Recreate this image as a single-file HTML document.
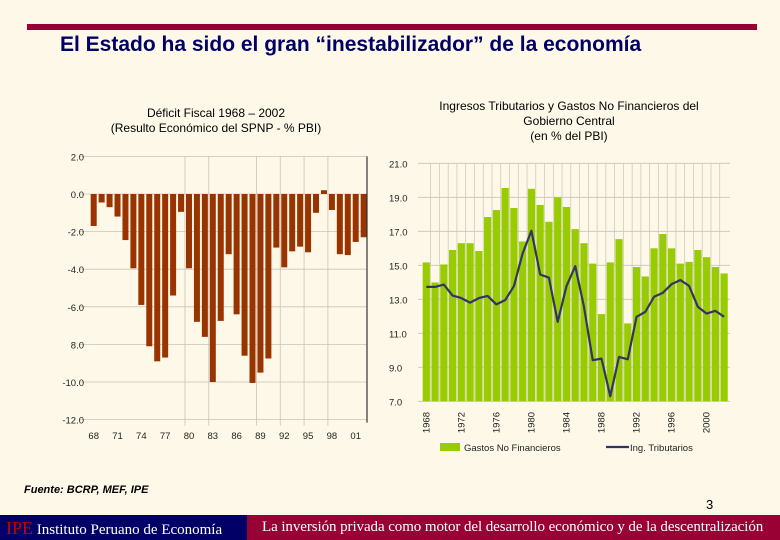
<!DOCTYPE html>
<html><head><meta charset="utf-8"><style>
body{margin:0;background:#fdf8e8;font-family:"Liberation Sans",sans-serif}
#wrap{position:relative;width:780px;height:540px;overflow:hidden;background:#fdf8e8}
.t{position:absolute;white-space:nowrap}
</style></head><body>
<div id="wrap">
<div style="position:absolute;left:27px;top:24px;width:730px;height:6px;background:#990033"></div>
<div class="t" style="left:60px;top:33px;font-size:21px;font-weight:bold;color:#000066">El Estado ha sido el gran “inestabilizador” de la economía</div>
<div class="t" style="left:216px;top:106px;transform:translateX(-50%);font-size:12px;text-align:center;line-height:15px">Déficit Fiscal 1968 – 2002<br>(Resulto Económico del SPNP - % PBI)</div>
<div class="t" style="left:569px;top:99px;transform:translateX(-50%);font-size:12px;text-align:center;line-height:15px">Ingresos Tributarios y Gastos No Financieros del<br>Gobierno Central<br>(en % del PBI)</div>
<svg id="chart" width="780" height="540" style="position:absolute;left:0;top:0"></svg>
<div class="t" style="left:24px;top:484px;font-size:11px;font-weight:bold;font-style:italic">Fuente: BCRP, MEF, IPE</div>
<div class="t" style="left:706px;top:497px;font-size:13px">3</div>
<div style="position:absolute;left:0;top:515px;width:247px;height:25px;background:#000066"></div>
<div style="position:absolute;left:247px;top:515px;width:533px;height:25px;background:#990033"></div>
<div class="t" style="left:6px;top:518px;font-family:'Liberation Serif',serif;font-size:15px;color:#fff"><span style="color:#cc0000;font-size:18px">IPE</span> Instituto Peruano de Economía</div>
<div class="t" style="left:262px;top:519px;font-family:'Liberation Serif',serif;font-size:15px;letter-spacing:-0.08px;color:#fff">La inversión privada como motor del desarrollo económico y de la descentralización</div>
</div>
<script>
const years=[];for(let y=1968;y<=2002;y++)years.push(y);
const deficit=[-1.7,-0.45,-0.7,-1.2,-2.45,-3.95,-5.9,-8.1,-8.9,-8.7,-5.4,-0.95,-3.95,-6.8,-7.6,-10.0,-6.75,-3.2,-6.4,-8.6,-10.05,-9.5,-8.75,-2.85,-3.9,-3.05,-2.8,-3.1,-1.0,0.2,-0.85,-3.2,-3.25,-2.55,-2.3];
const leftTicks=[2,0,-2,-4,-6,-8,-10,-12];
const leftTickLabels=["2.0","0.0","-2.0","-4.0","-6.0","8.0","-10.0","-12.0"];
const leftXLabels=["68","71","74","77","80","83","86","89","92","95","98","01"];
const gastos=[15.17,13.99,15.05,15.9,16.3,16.3,15.84,17.84,18.25,19.55,18.37,16.4,19.5,18.55,17.56,19.0,18.43,17.13,16.3,15.1,12.13,15.17,16.54,11.58,14.9,14.34,16.0,16.84,16.0,15.1,15.2,15.9,15.48,14.9,14.52];
const ingresos=[13.73,13.73,13.87,13.22,13.07,12.8,13.07,13.2,12.7,12.95,13.77,15.7,17.03,14.46,14.27,11.67,13.77,14.95,12.56,9.42,9.51,7.3,9.61,9.47,11.97,12.26,13.15,13.38,13.89,14.13,13.79,12.56,12.16,12.32,11.97];
const rightTicks=[21,19,17,15,13,11,9,7];
const rightXLabels=["1968","1972","1976","1980","1984","1988","1992","1996","2000"];
const NS="http://www.w3.org/2000/svg";
const svg=document.getElementById('chart');
function mk(tag,attrs,parent){const e=document.createElementNS(NS,tag);for(const k in attrs)e.setAttribute(k,attrs[k]);(parent||svg).appendChild(e);return e;}
const lx=i=>93.7+i*7.94, ly=v=>194+(0-v)*18.8;
leftTicks.forEach((t,i)=>{
 const g=mk('line',{x1:80,x2:367,y1:ly(t),y2:ly(t),stroke:'#c8c4b8','stroke-width':0.8});
 
 const tx=mk('text',{x:84,y:ly(t)+4,'text-anchor':'end','font-size':9.5,fill:'#222'});tx.textContent=leftTickLabels[i];
 
});
[12,15,21,24,27,30].forEach(i=>{const v=mk('line',{x1:lx(i)-4,x2:lx(i)-4,y1:ly(2),y2:ly(-12)+6,stroke:'#c8c4b8','stroke-width':0.8});
 });
deficit.forEach((d,i)=>{const y0=ly(0),y1=ly(d);
 const r=mk('rect',{x:lx(i)-3,y:Math.min(y0,y1),width:6,height:Math.max(1,Math.abs(y1-y0)),fill:'#993300'});
 });
const la=mk('line',{x1:367,x2:367,y1:ly(2),y2:ly(-12)+3,stroke:'#333','stroke-width':1.2});

leftXLabels.forEach((l,j)=>{const t=mk('text',{x:lx(j*3),y:439,'text-anchor':'middle','font-size':9.5,fill:'#222'});t.textContent=l;
 });
const rx=i=>426.3+i*8.76, ry=v=>163.3+(21-v)*17.0;
rightTicks.forEach(t=>{
 const g=mk('line',{x1:418,x2:730,y1:ry(t),y2:ry(t),stroke:'#c8c4b8','stroke-width':0.8});
 
 const tx=mk('text',{x:389,y:ry(t)+4,'font-size':9.5,fill:'#222'});tx.textContent=t.toFixed(1);
 
});
years.forEach((y,i)=>{if(i>0){const v=mk('line',{x1:rx(i)-4.4,x2:rx(i)-4.4,y1:ry(21),y2:ry(7),stroke:'#c8c4b8','stroke-width':0.7});
 }});
gastos.forEach((g,i)=>{const r=mk('rect',{x:rx(i)-3.6,y:ry(g),width:7.2,height:ry(7)-ry(g),fill:'#99cc00'});
 });
const pts=ingresos.map((v,i)=>rx(i)+','+ry(v)).join(' ');
const pl=mk('polyline',{points:pts,fill:'none',stroke:'#333366','stroke-width':2.2,'stroke-linejoin':'round'});

rightXLabels.forEach((l,j)=>{const x=rx(j*4)+3,y=412;const t=mk('text',{x:x,y:y,'text-anchor':'end','font-size':9.5,fill:'#222',transform:`rotate(-90 ${x} ${y})`});t.textContent=l;
 });
const lg1=mk('rect',{x:440,y:443,width:20,height:8,fill:'#99cc00'});

const lt1=mk('text',{x:464,y:451,'font-size':9.5,fill:'#222'});lt1.textContent='Gastos No Financieros';

const lg2=mk('line',{x1:606,x2:629,y1:447,y2:447,stroke:'#333366','stroke-width':2.2});

const lt2=mk('text',{x:630,y:451,'font-size':9.5,fill:'#222'});lt2.textContent='Ing. Tributarios';

</script>
</body></html>
